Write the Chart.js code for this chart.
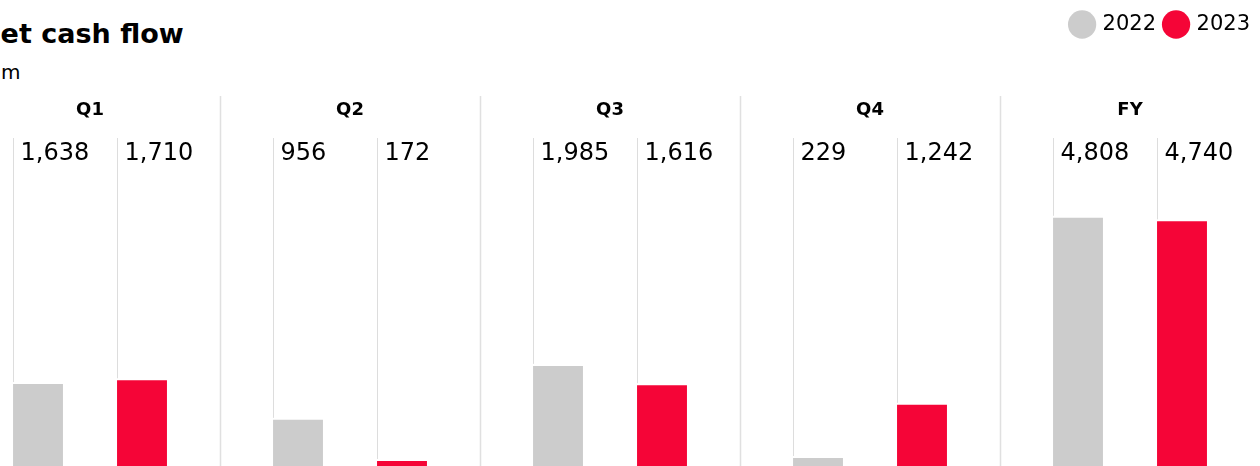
<!DOCTYPE html>
<html>
<head>
<meta charset="utf-8">
<script src="https://cdn.jsdelivr.net/npm/chart.js@4/dist/chart.umd.min.js"></script>
<style>
  html, body { margin: 0; padding: 0; background: #fff; overflow: hidden; width: 1260px; height: 466px; }
  body { position: relative; font-family: "DejaVu Sans", sans-serif; }
  #title { position: absolute; left: -22px; top: 18px; font: bold 27px "DejaVu Sans", sans-serif; color: #000; white-space: nowrap; }
  #unit { position: absolute; left: -18px; top: 60px; font: 20px "DejaVu Sans", sans-serif; color: #000; white-space: nowrap; }
  #wrap { position: absolute; left: -40px; top: 0; width: 1300px; height: 470px; }
</style>
</head>
<body>
<div id="title">Net cash flow</div>
<div id="unit">€ m</div>
<div id="wrap"><canvas id="cashChart"></canvas></div>
<script>
const periods = ["Q1", "Q2", "Q3", "Q4", "FY"];
const years = ["2022", "2023"];
const values2022 = [1638, 956, 1985, 229, 4808];
const values2023 = [1710, 172, 1616, 1242, 4740];

const grey = "#cccccc";
const red = "#f50537";

// leave room under the legend for the period headers and value labels
const legendSpace = {
  id: "legendSpace",
  afterInit(chart) {
    const fit = chart.legend.fit;
    chart.legend.fit = function () {
      fit.call(this);
      this.height += 51;
    };
  }
};

// separators, period labels, leader lines and value labels
const annotate = {
  id: "annotate",
  afterDatasetsDraw(chart) {
    const { ctx, chartArea } = chart;
    const x = chart.scales.x;
    const top = chartArea.top;
    ctx.save();

    // group separators
    ctx.strokeStyle = "#e0e0e0";
    ctx.lineWidth = 1.5;
    for (let i = 0; i < periods.length - 1; i++) {
      const sx = Math.round((x.getPixelForValue(i) + x.getPixelForValue(i + 1)) / 2) + 0.5;
      ctx.beginPath();
      ctx.moveTo(sx, top);
      ctx.lineTo(sx, chartArea.bottom);
      ctx.stroke();
    }

    // period labels
    ctx.fillStyle = "#000";
    ctx.font = "bold 18px 'DejaVu Sans'";
    ctx.textAlign = "center";
    ctx.textBaseline = "middle";
    periods.forEach((p, i) => ctx.fillText(p, x.getPixelForValue(i), top + 14));

    // leader lines + values
    ctx.font = "24px 'DejaVu Sans'";
    ctx.textAlign = "left";
    chart.data.datasets.forEach((ds, di) => {
      const meta = chart.getDatasetMeta(di);
      meta.data.forEach((bar, i) => {
        const left = Math.round(bar.x - bar.width / 2) + 0.5;
        ctx.strokeStyle = "#dddddd";
        ctx.lineWidth = 1;
        ctx.beginPath();
        ctx.moveTo(left, top + 42);
        ctx.lineTo(left, bar.y - 2);
        ctx.stroke();
        ctx.fillStyle = "#000";
        ctx.fillText(ds.data[i].toLocaleString("en-US"), left + 7, top + 58);
      });
    });
    ctx.restore();
  }
};

new Chart(document.getElementById("cashChart"), {
  type: "bar",
  data: {
    labels: periods,
    datasets: [
      { label: years[0], data: values2022, backgroundColor: grey, borderWidth: 0 },
      { label: years[1], data: values2023, backgroundColor: red, borderWidth: 0 }
    ]
  },
  options: {
    responsive: true,
    maintainAspectRatio: false,
    animation: false,
    categoryPercentage: 0.8,
    barPercentage: 0.48,
    layout: { padding: { top: 4 } },
    plugins: {
      legend: {
        position: "top",
        align: "end",
        labels: {
          usePointStyle: true,
          pointStyle: "circle",
          boxWidth: 20,
          boxHeight: 20,
          padding: 10,
          color: "#000",
          font: { family: "DejaVu Sans", size: 21 }
        }
      },
      tooltip: { enabled: false }
    },
    scales: {
      x: { display: false },
      y: { display: false, min: 0, max: 7130 }
    }
  },
  plugins: [legendSpace, annotate]
});
</script>
</body>
</html>
